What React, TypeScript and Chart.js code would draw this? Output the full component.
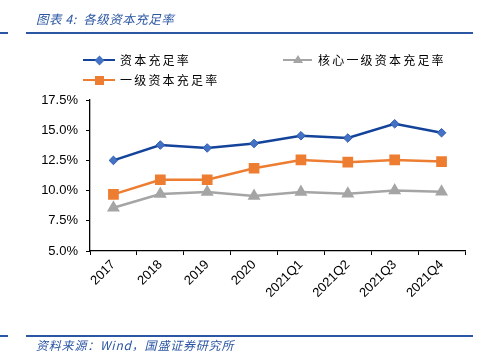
import React, { useEffect, useRef } from "react";
import { Chart, registerables } from "chart.js";

Chart.register(...registerables);

const categories = ["2017", "2018", "2019", "2020", "2021Q1", "2021Q2", "2021Q3", "2021Q4"];
const capitalAdequacy = [12.5, 13.77, 13.53, 13.9, 14.54, 14.35, 15.53, 14.79];
const tier1Adequacy = [9.69, 10.9, 10.9, 11.85, 12.54, 12.35, 12.54, 12.4];
const coreTier1Adequacy = [8.58, 9.71, 9.88, 9.55, 9.88, 9.74, 10.0, 9.9];
const seriesNames = ["资本充足率", "核心一级资本充足率", "一级资本充足率"];
const yMin = 5;
const yMax = 17.5;
const yStep = 2.5;

const BLUE_LINE = "#13439B";
const BLUE_MARK = "#4472C4";
const ORANGE = "#ED7D31";
const GRAY = "#A5A5A5";
const TITLE_BLUE = "#2B56A3";

const cjk = "'Noto Sans CJK SC', 'Noto Sans', sans-serif";

function LegendItem(props: { x: number; y: number; color: string; markColor: string; shape: string; text: string; textX: number; lineW: number }) {
  const { x, y, color, markColor, shape, text, textX, lineW } = props;
  const cx = x + lineW / 2;
  let marker: React.ReactNode = null;
  if (shape === "diamond") {
    marker = <div style={{ position: "absolute", left: cx - 3.5, top: y - 3.5, width: 7, height: 7, background: markColor, transform: "rotate(45deg)" }} />;
  } else if (shape === "square") {
    marker = <div style={{ position: "absolute", left: cx - 4.5, top: y - 4.5, width: 9, height: 9, background: markColor }} />;
  } else {
    marker = <div style={{ position: "absolute", left: cx - 5, top: y - 5, width: 0, height: 0, borderLeft: "5px solid transparent", borderRight: "5px solid transparent", borderBottom: `8px solid ${markColor}` }} />;
  }
  return (
    <>
      <div style={{ position: "absolute", left: x, top: y - 1.25, width: lineW, height: 2.5, background: color }} />
      {marker}
      <div style={{ position: "absolute", left: textX, top: y - 8, lineHeight: "16px", fontSize: 12, letterSpacing: "2.2px", fontFamily: cjk, color: "#000", whiteSpace: "nowrap" }}>{text}</div>
    </>
  );
}

export default function App() {
  const ref = useRef<HTMLCanvasElement | null>(null);

  useEffect(() => {
    if (!ref.current) return;
    const chart = new Chart(ref.current, {
      type: "line",
      data: {
        labels: categories,
        datasets: [
          {
            label: seriesNames[1],
            data: coreTier1Adequacy,
            borderColor: GRAY,
            backgroundColor: GRAY,
            pointBackgroundColor: GRAY,
            pointBorderColor: GRAY,
            pointStyle: "triangle",
            pointRadius: 5,
            borderWidth: 2.5,
            tension: 0,
          },
          {
            label: seriesNames[2],
            data: tier1Adequacy,
            borderColor: ORANGE,
            backgroundColor: ORANGE,
            pointBackgroundColor: ORANGE,
            pointBorderColor: ORANGE,
            pointStyle: "rect",
            pointRadius: 5.8,
            borderWidth: 2.5,
            tension: 0,
          },
          {
            label: seriesNames[0],
            data: capitalAdequacy,
            borderColor: BLUE_LINE,
            backgroundColor: BLUE_MARK,
            pointBackgroundColor: BLUE_MARK,
            pointBorderColor: "#2F5BAE",
            pointBorderWidth: 1,
            pointStyle: "rectRot",
            pointRadius: 4.3,
            borderWidth: 2.5,
            tension: 0,
          },
        ],
      },
      options: {
        responsive: false,
        animation: false,
        devicePixelRatio: 1,
        layout: { padding: { top: 100, right: 14, left: 0, bottom: 0 } },
        plugins: { legend: { display: false }, tooltip: { enabled: false }, title: { display: false } },
        scales: {
          x: {
            type: "category",
            offset: true,
            grid: { offset: true, drawOnChartArea: false, tickLength: 4, color: "#000", lineWidth: 1 },
            border: { color: "#000", width: 1.3 },
            ticks: {
              autoSkip: false,
              minRotation: 45,
              maxRotation: 45,
              color: "#000",
              padding: 2,
              font: { family: "'Liberation Sans', Arial, sans-serif", size: 13 },
            },
            afterFit: (s: any) => {
              s.height = 100;
            },
          },
          y: {
            type: "linear",
            min: yMin,
            max: yMax,
            grid: { drawOnChartArea: false, tickLength: 4, color: "#000", lineWidth: 1 },
            border: { color: "#000", width: 1.3 },
            ticks: {
              stepSize: yStep,
              color: "#000",
              padding: 8,
              font: { family: "'Liberation Sans', Arial, sans-serif", size: 13 },
              callback: (v: any) => Number(v).toFixed(1) + "%",
            },
            afterFit: (s: any) => {
              s.width = 90;
            },
          },
        },
      },
    });
    return () => chart.destroy();
  }, []);

  return (
    <div style={{ position: "absolute", left: 0, top: 0, width: 479, height: 351, background: "#fff", overflow: "hidden" }}>
      <canvas ref={ref} width={479} height={351} style={{ position: "absolute", left: 0, top: 0, width: 479, height: 351 }} />
      <div style={{ position: "absolute", left: 36, top: 11, fontSize: 12.5, lineHeight: "15px", fontStyle: "italic", color: TITLE_BLUE, fontFamily: cjk, whiteSpace: "nowrap", letterSpacing: "0.5px" }}>
        图表 4:&nbsp; 各级资本充足率
      </div>
      <div style={{ position: "absolute", left: 0, top: 31.5, width: 8, height: 2, background: TITLE_BLUE }} />
      <div style={{ position: "absolute", left: 26, top: 31.5, width: 447, height: 2, background: TITLE_BLUE }} />
      <LegendItem x={83} y={60} color={BLUE_LINE} markColor={BLUE_MARK} shape="diamond" text={seriesNames[0]} textX={120} lineW={32} />
      <LegendItem x={283} y={60} color={GRAY} markColor={GRAY} shape="triangle" text={seriesNames[1]} textX={318} lineW={29} />
      <LegendItem x={83} y={80} color={ORANGE} markColor={ORANGE} shape="square" text={seriesNames[2]} textX={120} lineW={32} />
      <div style={{ position: "absolute", left: 0, top: 335, width: 8, height: 2, background: TITLE_BLUE }} />
      <div style={{ position: "absolute", left: 26, top: 335, width: 447, height: 2, background: TITLE_BLUE }} />
      <div style={{ position: "absolute", left: 36, top: 337, fontSize: 12, lineHeight: "15px", fontStyle: "italic", color: TITLE_BLUE, fontFamily: cjk, whiteSpace: "nowrap", letterSpacing: "0.8px" }}>
        资料来源：Wind，国盛证券研究所
      </div>
    </div>
  );
}
